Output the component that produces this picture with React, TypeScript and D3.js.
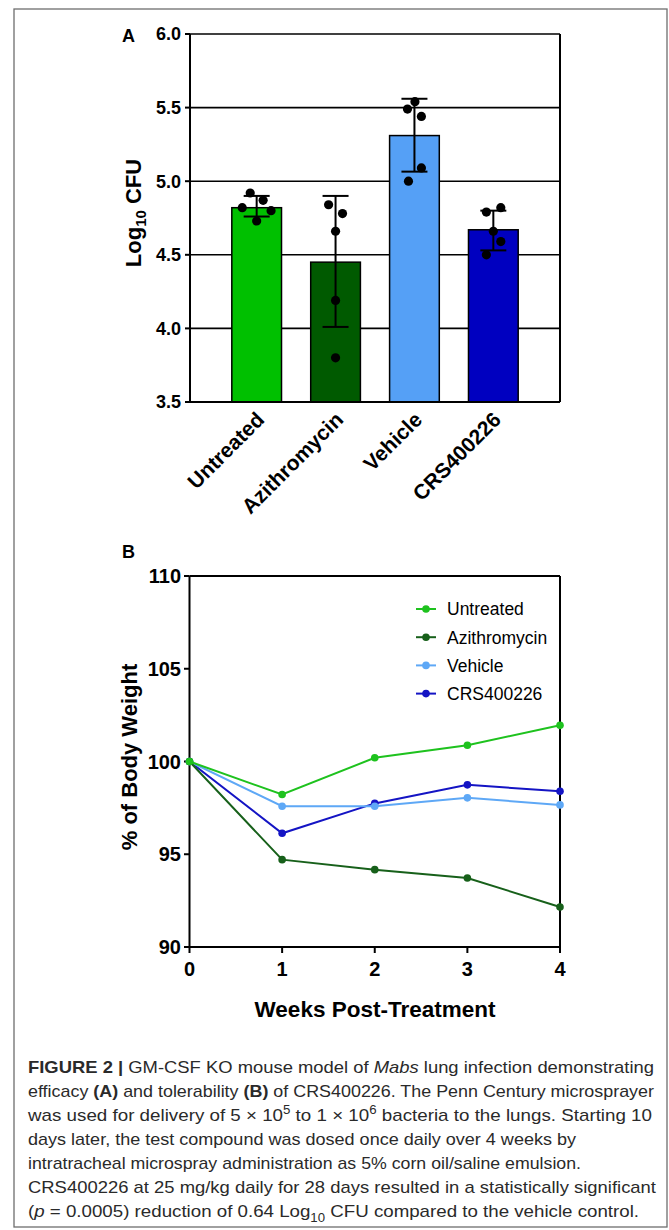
import React from "react";
import * as d3 from "d3";

// ---------- Panel A data ----------
const categories = ["Untreated", "Azithromycin", "Vehicle", "CRS400226"];
const barMeans = [4.82, 4.45, 5.31, 4.67];
const errLow = [4.76, 4.01, 5.065, 4.53];
const errHigh = [4.9, 4.9, 5.56, 4.8];
const dotsUntreated = [4.92, 4.82, 4.87, 4.8, 4.73];
const dotsAzithro = [4.84, 4.78, 4.66, 4.19, 3.8];
const dotsVehicle = [5.49, 5.54, 5.44, 5.09, 5.0];
const dotsCRS = [4.79, 4.82, 4.66, 4.59, 4.5];
const yTicksA = [3.5, 4.0, 4.5, 5.0, 5.5, 6.0];

// ---------- Panel B data ----------
const weeks = [0, 1, 2, 3, 4];
const bwUntreated = [100, 98.22, 100.2, 100.88, 101.95];
const bwAzithro = [100, 94.71, 94.17, 93.72, 92.16];
const bwVehicle = [100, 97.59, 97.59, 98.04, 97.66];
const bwCRS = [100, 96.13, 97.74, 98.74, 98.4];
const yTicksB = [90, 95, 100, 105, 110];

// ---------- styles ----------
const barColors = ["#00c000", "#005a00", "#55a0f6", "#0000c0"];
const lineColors = ["#1ec21e", "#17601a", "#5ea8f6", "#1414c4"];
const dotJitter = [
  [-0.13, -0.29, 0.13, 0.29, 0],
  [-0.14, 0.14, 0, 0, 0],
  [-0.14, 0.01, 0.14, 0.14, -0.12],
  [-0.14, 0.15, 0, 0.15, -0.14],
];
const FONT = "'Liberation Sans', Arial, Helvetica, sans-serif";

export default function App() {
  const W = 669, H = 1230;
  // Panel A scales
  const xA = d3.scaleBand<string>().domain(categories).range([190, 560]).paddingInner(0.37).paddingOuter(0.53);
  const yA = d3.scaleLinear().domain([3.5, 6.0]).range([402, 34]);
  const bw = xA.bandwidth();
  const allDots = [dotsUntreated, dotsAzithro, dotsVehicle, dotsCRS];

  // Panel B scales
  const xB = d3.scaleLinear().domain([0, 4]).range([189.5, 560]);
  const yB = d3.scaleLinear().domain([90, 110]).range([947, 576]);
  const series = [
    { name: "Untreated", vals: bwUntreated, color: lineColors[0] },
    { name: "Azithromycin", vals: bwAzithro, color: lineColors[1] },
    { name: "Vehicle", vals: bwVehicle, color: lineColors[2] },
    { name: "CRS400226", vals: bwCRS, color: lineColors[3] },
  ];
  const line = d3.line<number>().x((_, i) => xB(weeks[i])).y((v) => yB(v));
  const drawOrder = [3, 2, 1, 0];

  const capLines: { len: number; content: React.ReactNode }[] = [
    { len: 626, content: (<><tspan fontWeight="bold">FIGURE 2 | </tspan>GM-CSF KO mouse model of <tspan fontStyle="italic">Mabs</tspan> lung infection demonstrating</>) },
    { len: 626, content: (<>efficacy <tspan fontWeight="bold">(A)</tspan> and tolerability <tspan fontWeight="bold">(B)</tspan> of CRS400226. The Penn Century microsprayer</>) },
    { len: 624, content: (<>was used for delivery of 5 × 10<tspan fontSize="12" dy="-7">5</tspan><tspan dy="7"> to 1 × 10</tspan><tspan fontSize="12" dy="-7">6</tspan><tspan dy="7"> bacteria to the lungs. Starting 10</tspan></>) },
    { len: 548, content: (<>days later, the test compound was dosed once daily over 4 weeks by</>) },
    { len: 553, content: (<>intratracheal microspray administration as 5% corn oil/saline emulsion.</>) },
    { len: 628, content: (<>CRS400226 at 25 mg/kg daily for 28 days resulted in a statistically significant</>) },
    { len: 611, content: (<>(<tspan fontStyle="italic">p</tspan> = 0.0005) reduction of 0.64 Log<tspan fontSize="12" dy="5">10</tspan><tspan dy="-5"> CFU compared to the vehicle control.</tspan></>) },
  ];

  return (
    <svg width={W} height={H} style={{ position: "absolute", left: 0, top: 0, background: "#fff" }} fontFamily={FONT}>
      <rect x={0} y={0} width={W} height={H} fill="#fff" />
      {/* outer frame */}
      <rect x={14} y={9} width={653} height={1218} fill="none" stroke="#6e6e6e" strokeWidth={1.3} />

      {/* ================= Panel A ================= */}
      <text x={122} y={42} fontSize={18} fontWeight="bold">A</text>
      {/* gridlines */}
      {yTicksA.map((t) => (
        <line key={"g" + t} x1={190} x2={560} y1={yA(t)} y2={yA(t)} stroke="#000" strokeWidth={1.6} />
      ))}
      {/* bars */}
      {categories.map((c, i) => (
        <rect key={c} x={xA(c)} y={yA(barMeans[i])} width={bw} height={yA(3.5) - yA(barMeans[i])} fill={barColors[i]} stroke="#000" strokeWidth={1.5} />
      ))}
      {/* error bars */}
      {categories.map((c, i) => {
        const cx = (xA(c) as number) + bw / 2;
        return (
          <g key={"e" + c} stroke="#000" strokeWidth={2}>
            <line x1={cx} x2={cx} y1={yA(errLow[i])} y2={yA(errHigh[i])} />
            <line x1={cx - 13} x2={cx + 13} y1={yA(errLow[i])} y2={yA(errLow[i])} />
            <line x1={cx - 13} x2={cx + 13} y1={yA(errHigh[i])} y2={yA(errHigh[i])} />
          </g>
        );
      })}
      {/* dots */}
      {categories.map((c, i) =>
        allDots[i].map((v, j) => (
          <circle key={c + j} cx={(xA(c) as number) + bw / 2 + dotJitter[i][j] * bw} cy={yA(v)} r={4.6} fill="#000" />
        ))
      )}
      {/* frame */}
      <line x1={190} x2={190} y1={34} y2={402} stroke="#000" strokeWidth={2} />
      <line x1={560} x2={560} y1={34} y2={402} stroke="#000" strokeWidth={2} />
      <line x1={190} x2={560} y1={402} y2={402} stroke="#000" strokeWidth={2} />
      {/* y ticks */}
      {yTicksA.map((t) => (
        <g key={"t" + t}>
          <line x1={185} x2={190} y1={yA(t)} y2={yA(t)} stroke="#000" strokeWidth={2} />
          <text x={181} y={yA(t)} dy="0.36em" textAnchor="end" fontSize={18} fontWeight="bold">{d3.format(".1f")(t)}</text>
        </g>
      ))}
      {/* y title */}
      <text transform="translate(141,213) rotate(-90)" textAnchor="middle" fontSize={22} fontWeight="bold">
        Log<tspan fontSize={15} dy={5}>10</tspan><tspan dy={-5}> CFU</tspan>
      </text>
      {/* category labels */}
      {categories.map((c) => {
        const cx = (xA(c) as number) + bw / 2;
        return (
          <text key={"l" + c} transform={`translate(${cx + 9},${421}) rotate(-45)`} textAnchor="end" fontSize={21} fontWeight="bold">{c}</text>
        );
      })}

      {/* ================= Panel B ================= */}
      <text x={122} y={558} fontSize={18} fontWeight="bold">B</text>
      {/* frame */}
      <line x1={189.5} x2={560} y1={576} y2={576} stroke="#000" strokeWidth={2} />
      <line x1={560} x2={560} y1={576} y2={947} stroke="#000" strokeWidth={2} />
      <line x1={189.5} x2={189.5} y1={576} y2={947} stroke="#000" strokeWidth={2} />
      <line x1={189.5} x2={560} y1={947} y2={947} stroke="#000" strokeWidth={2} />
      {yTicksB.map((t) => (
        <g key={"bt" + t}>
          <line x1={184} x2={189.5} y1={yB(t)} y2={yB(t)} stroke="#000" strokeWidth={2} />
          <text x={181} y={yB(t)} dy="0.36em" textAnchor="end" fontSize={20} fontWeight="bold">{t}</text>
        </g>
      ))}
      {weeks.map((w) => (
        <g key={"bx" + w}>
          <line x1={xB(w)} x2={xB(w)} y1={947} y2={953} stroke="#000" strokeWidth={2} />
          <text x={xB(w)} y={976} textAnchor="middle" fontSize={20} fontWeight="bold">{w}</text>
        </g>
      ))}
      <text transform="translate(137,757) rotate(-90)" textAnchor="middle" fontSize={22} fontWeight="bold">% of Body Weight</text>
      <text x={375} y={1017} textAnchor="middle" fontSize={22.5} fontWeight="bold">Weeks Post-Treatment</text>
      {/* lines */}
      {drawOrder.map((k) => {
        const s = series[k];
        return (
          <g key={s.name}>
            <path d={line(s.vals) as string} fill="none" stroke={s.color} strokeWidth={2} />
            {s.vals.map((v, i) => (
              <circle key={i} cx={xB(weeks[i])} cy={yB(v)} r={3.8} fill={s.color} />
            ))}
          </g>
        );
      })}
      {/* legend */}
      {series.map((s, i) => {
        const y = 609 + i * 28.2;
        return (
          <g key={"lg" + s.name}>
            <line x1={416} x2={436} y1={y} y2={y} stroke={s.color} strokeWidth={2} />
            <circle cx={426} cy={y} r={3.8} fill={s.color} />
            <text x={447} y={y} dy="0.36em" fontSize={17.5}>{s.name}</text>
          </g>
        );
      })}

      {/* ================= Caption ================= */}
      {capLines.map((l, i) => (
        <text key={"cap" + i} x={28} y={1073 + i * 24} fontSize={17} fill="#2a2a2a" textLength={l.len} lengthAdjust="spacingAndGlyphs">
          {l.content}
        </text>
      ))}
    </svg>
  );
}
